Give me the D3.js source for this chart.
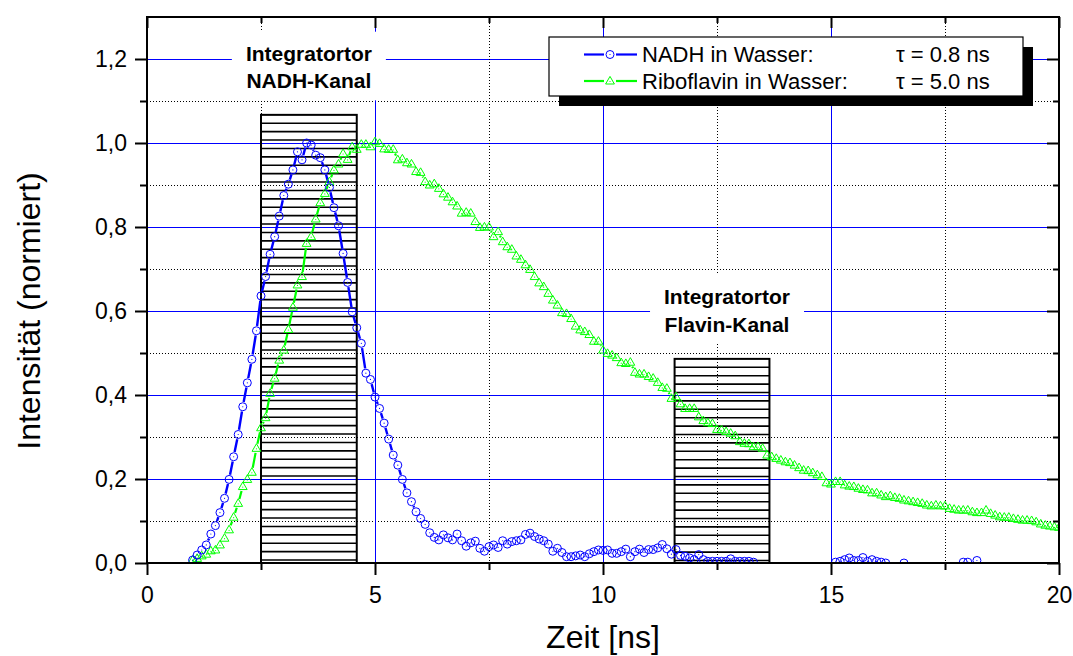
<!DOCTYPE html>
<html><head><meta charset="utf-8">
<script src="https://cdn.jsdelivr.net/npm/d3@7"></script>
<style>body{margin:0;background:#fff}svg{display:block}text{font-family:"Liberation Sans",Arial,sans-serif}</style>
</head><body><svg id="c" width="1073" height="656"></svg>
<script>
// ---- data ----
const timeStepNs = 0.1;
const nadhStart = 1.0;
const nadhValues = [
0.007,0.019,0.031,0.043,0.069,0.089,0.120,0.154,0.199,0.253,
0.306,0.372,0.429,0.485,0.553,0.636,0.682,0.735,0.777,0.826,
0.875,0.902,0.936,0.979,0.960,1.000,0.995,0.971,0.965,0.936,
0.894,0.846,0.803,0.737,0.668,0.598,0.560,0.523,0.452,0.437,
0.395,0.368,0.333,0.295,0.257,0.233,0.199,0.167,0.146,0.122,
0.106,0.092,0.072,0.061,0.055,0.067,0.060,0.055,0.069,0.053,
0.040,0.048,0.052,0.035,0.028,0.039,0.043,0.037,0.053,0.045,
0.051,0.053,0.055,0.068,0.071,0.063,0.057,0.053,0.045,0.028,
0.035,0.025,0.015,0.015,0.017,0.019,0.015,0.022,0.027,0.031,
0.030,0.031,0.023,0.023,0.027,0.033,0.015,0.027,0.033,0.025,
0.032,0.032,0.036,0.044,0.034,0.021,0.032,0.018,0.016,0.012,
0.008,0.020,0.008,0.004,0.004,0.004,0.004,0.004,0.010,0.004,
0.004,0.004,0.004,0.002,-0.008,-0.012,-0.005,-0.015,-0.010,-0.006,
-0.012,-0.018,-0.010,-0.008,-0.014,-0.004,-0.001,-0.006,-0.012,-0.009,
-0.004,0.002,0.004,0.008,0.012,0.006,0.006,0.013,0.004,0.008,
0.004,0.002,0.000,-0.006,-0.010,-0.004,0.000,-0.008,-0.014,-0.010,
-0.006,-0.004,-0.001,-0.008,-0.012,-0.016,-0.010,-0.006,-0.002,0.002,
0.002,-0.002,0.006,-0.006,-0.012,-0.008,-0.004,-0.002,-0.001,-0.008
];
const riboStart = 1.0;
const riboValues = [
0.007,0.011,0.017,0.021,0.029,0.031,0.043,0.059,0.079,0.109,
0.142,0.182,0.199,0.216,0.273,0.322,0.346,0.404,0.440,0.483,
0.507,0.556,0.609,0.662,0.682,0.761,0.777,0.819,0.858,0.880,
0.908,0.936,0.950,0.975,0.961,0.991,0.985,0.997,0.997,0.991,
1.003,0.999,0.986,0.985,0.985,0.960,0.962,0.953,0.950,0.932,
0.930,0.908,0.900,0.903,0.892,0.879,0.871,0.860,0.850,0.833,
0.835,0.833,0.813,0.799,0.800,0.800,0.777,0.789,0.765,0.753,
0.747,0.731,0.723,0.710,0.699,0.682,0.667,0.658,0.642,0.626,
0.614,0.596,0.594,0.582,0.564,0.555,0.551,0.544,0.528,0.528,
0.507,0.499,0.495,0.489,0.477,0.475,0.478,0.454,0.450,0.450,
0.444,0.440,0.430,0.418,0.416,0.392,0.396,0.379,0.368,0.368,
0.368,0.348,0.339,0.334,0.332,0.318,0.317,0.313,0.309,0.303,
0.289,0.285,0.284,0.277,0.277,0.273,0.257,0.253,0.249,0.245,
0.241,0.239,0.233,0.227,0.221,0.220,0.215,0.210,0.206,0.191,
0.188,0.194,0.194,0.186,0.183,0.182,0.178,0.175,0.174,0.167,
0.167,0.162,0.158,0.160,0.156,0.154,0.150,0.148,0.146,0.144,
0.142,0.138,0.136,0.138,0.136,0.136,0.130,0.128,0.126,0.126,
0.126,0.122,0.120,0.120,0.126,0.118,0.114,0.110,0.109,0.109,
0.106,0.104,0.102,0.102,0.101,0.098,0.093,0.090,0.088,0.086,
0.085
];
const xMajorTicks = [0,5,10,15,20];
const xTickLabels = ["0","5","10","15","20"];
const xMinorTicks = [2.5,7.5,12.5,17.5];
const yMajorTicks = [0,0.2,0.4,0.6,0.8,1.0,1.2];
const yTickLabels = ["0,0","0,2","0,4","0,6","0,8","1,0","1,2"];
const yMinorTicks = [0.1,0.3,0.5,0.7,0.9,1.1];
const gateStart = [2.5, 11.57];
const gateEnd = [4.6, 13.65];
const gateTop = [1.067, 0.486];
const gateLabels = [["Integratortor","NADH-Kanal"],["Integratortor","Flavin-Kanal"]];
const legendNames = ["NADH in Wasser:","Riboflavin in Wasser:"];
const legendTau = ["\u03C4 = 0.8 ns","\u03C4 = 5.0 ns"];
const xTitle = "Zeit [ns]";
const yTitle = "Intensität (normiert)";

// ---- layout ----
const L=147, R=1059, T=17, B=563;
const x = d3.scaleLinear().domain([0,20]).range([L,R]);
const y = d3.scaleLinear().domain([0,1.3]).range([B,T]);
const svg = d3.select("#c");
const BLUE="#0000ff", GREEN="#00ff00";

svg.append("defs").append("clipPath").attr("id","plot")
  .append("rect").attr("x",L).attr("y",T).attr("width",R-L).attr("height",B-T);

// grid
const grid = svg.append("g");
grid.selectAll(".gy").data(yMajorTicks.filter(d=>d>0)).join("line")
  .attr("x1",L).attr("x2",R).attr("y1",d=>Math.round(y(d))+0.5).attr("y2",d=>Math.round(y(d))+0.5)
  .attr("stroke",BLUE).attr("stroke-width",1);
grid.selectAll(".gym").data(yMinorTicks).join("line")
  .attr("x1",L).attr("x2",R).attr("y1",d=>Math.round(y(d))+0.5).attr("y2",d=>Math.round(y(d))+0.5)
  .attr("stroke","#000").attr("stroke-width",1).attr("stroke-dasharray","1,2");
grid.selectAll(".gx").data(xMajorTicks.filter(d=>d>0&&d<20)).join("line")
  .attr("y1",T).attr("y2",B).attr("x1",d=>Math.round(x(d))+0.5).attr("x2",d=>Math.round(x(d))+0.5)
  .attr("stroke",BLUE).attr("stroke-width",1);
grid.selectAll(".gxm").data(xMinorTicks).join("line")
  .attr("y1",T).attr("y2",B).attr("x1",d=>Math.round(x(d))+0.5).attr("x2",d=>Math.round(x(d))+0.5)
  .attr("stroke","#000").attr("stroke-width",1).attr("stroke-dasharray","1,2");

// gate label boxes (white background)
const labelBoxes = [
  {cx:(x(gateStart[0])+x(gateEnd[0]))/2, base:60.7},
  {cx:x(12.72), base:304}
];
labelBoxes.forEach((b,i)=>{
  svg.append("rect").attr("x",b.cx-77).attr("y",b.base-29).attr("width",154).attr("height",29+27.6+12)
    .attr("fill","#fff");
});

// gates (hatched rectangles)
const gates = svg.append("g");
gateStart.forEach((g,i)=>{
  const x0=x(g), x1=x(gateEnd[i]), yt=y(gateTop[i]);
  const lines = d3.range(yt+8.4, B-1, 8.4);
  gates.append("g").selectAll("line").data(lines).join("line")
    .attr("x1",x0).attr("x2",x1).attr("y1",d=>d).attr("y2",d=>d)
    .attr("stroke","#000").attr("stroke-width",1.6);
  gates.append("rect").attr("x",x0).attr("y",yt).attr("width",x1-x0).attr("height",B-yt)
    .attr("fill","none").attr("stroke","#000").attr("stroke-width",2);
});

// gate label texts
labelBoxes.forEach((b,i)=>{
  const t = svg.append("text").attr("text-anchor","middle").attr("font-size",21).attr("font-weight","bold");
  gateLabels[i].forEach((s,j)=>t.append("tspan").attr("x",b.cx).attr("y",b.base+j*27.6).text(s));
});

// data
const nadh = nadhValues.map((v,i)=>({t:nadhStart+i*timeStepNs, v}));
const ribo = riboValues.map((v,i)=>({t:riboStart+i*timeStepNs, v}));

function gapPath(pts, gap){
  let d="";
  for(let i=0;i<pts.length-1;i++){
    const x0=x(pts[i].t), y0=y(pts[i].v), x1=x(pts[i+1].t), y1=y(pts[i+1].v);
    const dx=x1-x0, dy=y1-y0, Ln=Math.hypot(dx,dy);
    if(Ln>2*gap+0.5){
      const ux=dx/Ln, uy=dy/Ln;
      d+=`M${x0+ux*gap},${y0+uy*gap}L${x1-ux*gap},${y1-uy*gap}`;
    }
  }
  return d;
}
const plot = svg.append("g").attr("clip-path","url(#plot)");
plot.append("path").attr("d",gapPath(ribo,4.6)).attr("fill","none").attr("stroke",GREEN).attr("stroke-width",2.2);
plot.append("path").attr("d",gapPath(nadh,4.8)).attr("fill","none").attr("stroke",BLUE).attr("stroke-width",2.4);

const triPath = "M0,-4.6L4.4,3L-4.4,3Z";
const rg = plot.append("g").selectAll("g").data(ribo.filter(d=>d.v>=0)).join("g")
  .attr("transform",d=>`translate(${x(d.t)},${y(d.v)})`);
rg.append("path").attr("d",triPath).attr("fill","none").attr("stroke",GREEN).attr("stroke-width",1);
rg.append("circle").attr("cy",0.5).attr("r",0.6).attr("fill",GREEN);

const ng = plot.append("g").selectAll("g").data(nadh.filter(d=>d.v>=0)).join("g")
  .attr("transform",d=>`translate(${x(d.t)},${y(d.v)})`);
ng.append("circle").attr("r",4).attr("fill","none").attr("stroke",BLUE).attr("stroke-width",1);
ng.append("circle").attr("r",0.6).attr("fill",BLUE);

// axes
function styleAxis(g){ g.select(".domain").remove(); g.selectAll(".tick line").attr("stroke","#000").attr("stroke-width",2); }
svg.append("g").attr("transform",`translate(${L},0)`)
  .call(d3.axisLeft(y).tickValues(yMajorTicks).tickSize(12).tickPadding(8).tickFormat((d,i)=>yTickLabels[i]))
  .call(styleAxis).selectAll("text").attr("font-size",23).attr("fill","#000").attr("font-family","Liberation Sans, Arial, sans-serif");
svg.append("g").attr("transform",`translate(${L},0)`)
  .call(d3.axisLeft(y).tickValues(yMinorTicks).tickSize(7).tickFormat(""))
  .call(styleAxis);
svg.append("g").attr("transform",`translate(0,${B})`)
  .call(d3.axisBottom(x).tickValues(xMajorTicks).tickSize(12).tickPadding(12).tickFormat((d,i)=>xTickLabels[i]))
  .call(styleAxis).selectAll("text").attr("font-size",23).attr("fill","#000").attr("font-family","Liberation Sans, Arial, sans-serif");
svg.append("g").attr("transform",`translate(0,${B})`)
  .call(d3.axisBottom(x).tickValues(xMinorTicks).tickSize(7).tickFormat(""))
  .call(styleAxis);
svg.append("g").attr("transform",`translate(0,${T})`)
  .call(d3.axisTop(x).tickValues(xMajorTicks).tickSize(-11).tickFormat(""))
  .call(styleAxis);
svg.append("g").attr("transform",`translate(0,${T})`)
  .call(d3.axisTop(x).tickValues(xMinorTicks).tickSize(-6).tickFormat(""))
  .call(styleAxis);
svg.append("g").attr("transform",`translate(${R},0)`)
  .call(d3.axisRight(y).tickValues(yMajorTicks).tickSize(-12).tickFormat(""))
  .call(styleAxis);
svg.append("g").attr("transform",`translate(${R},0)`)
  .call(d3.axisRight(y).tickValues(yMinorTicks).tickSize(-6).tickFormat(""))
  .call(styleAxis);
svg.append("rect").attr("x",L).attr("y",T).attr("width",R-L).attr("height",B-T)
  .attr("fill","none").attr("stroke","#000").attr("stroke-width",2);

// axis titles
svg.append("text").attr("x",(L+R)/2).attr("y",648).attr("text-anchor","middle").attr("font-size",32).text(xTitle);
svg.append("text").attr("transform","translate(40,311) rotate(-90)").attr("text-anchor","middle").attr("font-size",32).text(yTitle);

// legend
const lg = svg.append("g");
lg.append("rect").attr("x",559).attr("y",47).attr("width",474).attr("height",59).attr("fill","#000");
lg.append("rect").attr("x",549).attr("y",37).attr("width",474).attr("height",59).attr("fill","#fff").attr("stroke","#000").attr("stroke-width",1.2);
const rows = [54.5, 81];
const cols = [BLUE, GREEN];
rows.forEach((ry,i)=>{
  lg.append("line").attr("x1",584).attr("x2",604).attr("y1",ry).attr("y2",ry).attr("stroke",cols[i]).attr("stroke-width",2.2);
  lg.append("line").attr("x1",616).attr("x2",637).attr("y1",ry).attr("y2",ry).attr("stroke",cols[i]).attr("stroke-width",2.2);
  const m = lg.append("g").attr("transform",`translate(610,${ry})`);
  if(i===0){
    m.append("circle").attr("r",4).attr("fill","none").attr("stroke",BLUE).attr("stroke-width",1);
    m.append("circle").attr("r",0.6).attr("fill",BLUE);
  } else {
    m.append("path").attr("d",triPath).attr("fill","none").attr("stroke",GREEN).attr("stroke-width",1);
    m.append("circle").attr("cy",0.5).attr("r",0.6).attr("fill",GREEN);
  }
  lg.append("text").attr("x",642).attr("y",ry+7.6).attr("font-size",22).text(legendNames[i]);
  lg.append("text").attr("x",896).attr("y",ry+7.6).attr("font-size",22).text(legendTau[i]);
});
</script></body></html>
